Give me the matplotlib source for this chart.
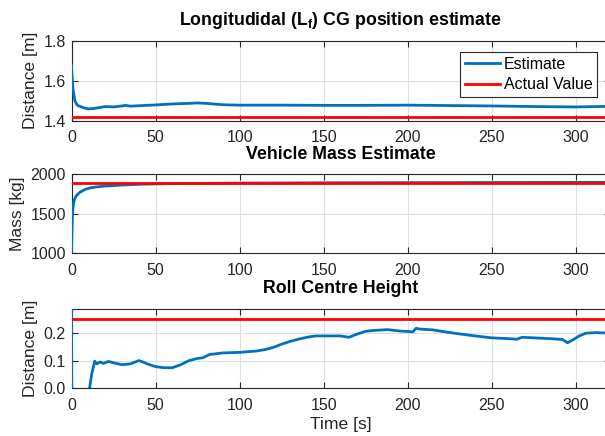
import matplotlib.pyplot as plt
import numpy as np

# Longitudinal CG position estimate [m]
lf_t = [0, 0.5, 1, 2, 3, 4, 6, 8, 10, 13, 16, 20, 25, 30, 32, 35, 40, 50, 60, 70, 75, 80, 90,
        100, 125, 150, 175, 200, 225, 250, 275, 300, 320]
lf_est = [1.676, 1.60, 1.55, 1.50, 1.482, 1.474, 1.468, 1.462, 1.458, 1.460, 1.464, 1.470,
          1.468, 1.473, 1.476, 1.472, 1.474, 1.478, 1.483, 1.486, 1.488, 1.486, 1.479,
          1.477, 1.477, 1.476, 1.476, 1.477, 1.475, 1.473, 1.470, 1.468, 1.471]
lf_actual = 1.417

# Vehicle mass estimate [kg]
m_t = [0, 0.3, 0.6, 1, 1.5, 2, 3, 5, 8, 11, 15, 20, 30, 40, 60, 100, 150, 200, 250, 320]
m_est = [1000, 1300, 1500, 1600, 1660, 1700, 1735, 1775, 1810, 1830, 1843, 1853, 1866,
         1876, 1885, 1891, 1895, 1897, 1899, 1900]
m_actual = 1890

# Roll centre height [m]
rc_t = [0, 0.2, 5, 10.5, 12, 13.8, 15, 17, 19, 22, 25, 30, 35, 38, 40, 42, 45, 50, 55, 60,
        65, 70, 75, 78, 82, 90, 100, 110, 115, 120, 125, 130, 135, 140, 145, 150, 160, 165,
        170, 175, 180, 188, 195, 203, 205, 207, 215, 222, 230, 240, 250, 260, 265, 268, 275,
        285, 292, 295, 298, 302, 306, 312, 320]
rc_est = [0.5, -0.3, -0.1, -0.01, 0.05, 0.098, 0.088, 0.095, 0.090, 0.097, 0.092, 0.085,
          0.088, 0.095, 0.100, 0.096, 0.088, 0.078, 0.074, 0.074, 0.085, 0.100, 0.108,
          0.110, 0.122, 0.128, 0.130, 0.135, 0.140, 0.148, 0.160, 0.170, 0.178, 0.185,
          0.190, 0.190, 0.190, 0.185, 0.197, 0.207, 0.210, 0.213, 0.208, 0.205, 0.218,
          0.215, 0.212, 0.205, 0.198, 0.190, 0.183, 0.180, 0.178, 0.185, 0.183, 0.180,
          0.177, 0.165, 0.175, 0.190, 0.200, 0.202, 0.200]
rc_actual = 0.25

blue = '#0072BD'
red = '#FF0000'
dark = '#262626'

plt.rcParams['font.family'] = ['Liberation Sans', 'DejaVu Sans']
plt.rcParams['mathtext.fontset'] = 'custom'
plt.rcParams['mathtext.rm'] = 'Liberation Sans'
plt.rcParams['mathtext.bf'] = 'Liberation Sans:bold'

fig = plt.figure(figsize=(6.05, 4.36), dpi=100)
left, width = 71.5 / 605, 538 / 605
ax1 = fig.add_axes([left, 0.7236, width, 0.183])
ax2 = fig.add_axes([left, 0.4186, width, 0.1812])
ax3 = fig.add_axes([left, 0.1101, width, 0.1823])


def style(ax, ylim, yticks, ylabel, title):
    ax.set_xlim(0, 320)
    ax.set_ylim(*ylim)
    ax.set_xticks(np.arange(0, 301, 50))
    ax.set_yticks(yticks)
    ax.grid(True, color='#dfdfdf', linewidth=0.8)
    ax.set_axisbelow(True)
    ax.tick_params(direction='in', length=4, width=0.8, colors=dark, labelsize=11.5,
                   top=True, right=True, labelcolor=dark, pad=4)
    ax.tick_params(axis='x', pad=7)
    for sp in ax.spines.values():
        sp.set_color(dark)
        sp.set_linewidth(0.8)
        sp.set_zorder(1.5)
    ax.set_ylabel(ylabel, fontsize=12.6, color=dark, labelpad=4)
    ax.set_title(title, fontsize=12.8, fontweight='bold', color='black', pad=11)


ax1.plot(lf_t, lf_est, color=blue, lw=2, label='Estimate', zorder=3)
ax1.axhline(lf_actual, color=red, lw=2, label='Actual Value', zorder=3)
style(ax1, (1.4, 1.8), [1.4, 1.6, 1.8], 'Distance [m]',
      r'Longitudidal (L$_\mathbf{f}$) CG position estimate')
leg = ax1.legend(loc='upper right', bbox_to_anchor=(0.977, 0.86), fontsize=11.5,
                 fancybox=False, edgecolor=dark, framealpha=1, handlelength=2.2,
                 borderpad=0.3, labelspacing=0.35, handletextpad=0.2, borderaxespad=0)
leg.get_frame().set_linewidth(0.8)

ax2.plot(m_t, m_est, color=blue, lw=2, zorder=3)
ax2.axhline(m_actual, color=red, lw=2, zorder=3)
style(ax2, (1000, 2000), [1000, 1500, 2000], 'Mass [kg]', 'Vehicle Mass Estimate')

ax3.plot(rc_t, rc_est, color=blue, lw=2, zorder=3)
ax3.axhline(rc_actual, color=red, lw=2, zorder=3)
style(ax3, (0, 0.29), [0, 0.1, 0.2], 'Distance [m]', 'Roll Centre Height')
ax3.set_xlabel('Time [s]', fontsize=12.6, color=dark, labelpad=3)

fig.savefig('out.png', dpi=100)
